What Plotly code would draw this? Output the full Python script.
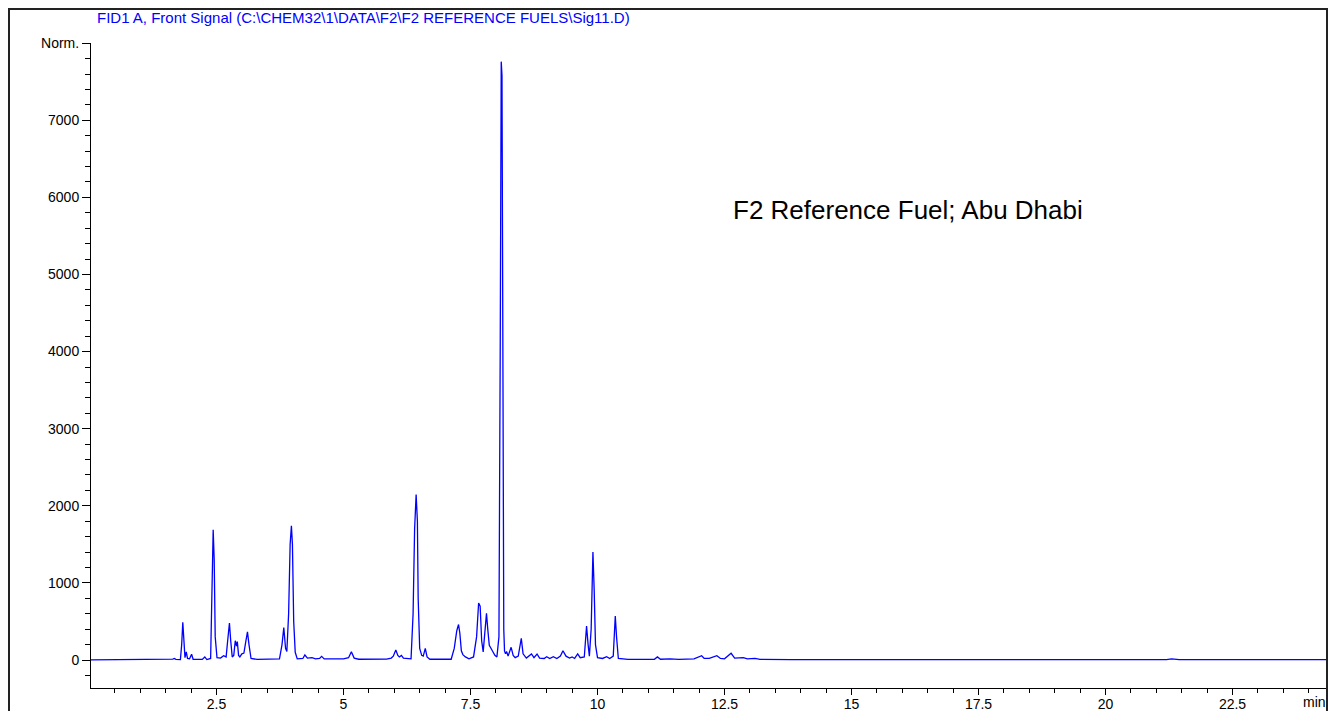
import plotly.graph_objects as go

# Retention time (min) and detector signal (Norm.)
time_min = [
    0.03, 1.60, 1.64, 1.67, 1.70, 1.79, 1.815, 1.837, 1.855, 1.88, 1.905, 1.93, 1.97, 2.01, 2.04,
    2.22, 2.27, 2.31, 2.385, 2.41, 2.435, 2.455, 2.475, 2.51, 2.58, 2.64, 2.69, 2.72, 2.755, 2.78,
    2.81, 2.84, 2.87, 2.895, 2.91, 2.935, 2.96, 3.0, 3.04, 3.08, 3.11, 3.14, 3.18, 3.3, 3.45, 3.5,
    3.74, 3.79, 3.825, 3.86, 3.885, 3.92, 3.95, 3.975, 3.995, 4.02, 4.05, 4.09, 4.2, 4.24, 4.29,
    4.38, 4.45, 4.53, 4.57, 4.62, 4.9, 5.0, 5.1, 5.155, 5.21, 5.3, 5.85, 5.94, 5.98, 6.03, 6.07,
    6.1, 6.14, 6.18, 6.33, 6.37, 6.40, 6.43, 6.455, 6.47, 6.5, 6.54, 6.57, 6.61, 6.645, 6.7,
    7.12, 7.18, 7.23, 7.265, 7.29, 7.32, 7.35, 7.4, 7.47, 7.56, 7.62, 7.66, 7.69, 7.72, 7.75,
    7.78, 7.815, 7.84, 7.87, 7.93, 7.98, 8.02, 8.06, 8.085, 8.105, 8.12, 8.135, 8.155, 8.17,
    8.19, 8.21, 8.24, 8.3, 8.34, 8.38, 8.44, 8.5, 8.535, 8.6, 8.7, 8.75, 8.81, 8.86, 8.95, 9.0,
    9.06, 9.13, 9.2, 9.27, 9.32, 9.38, 9.45, 9.5, 9.55, 9.61, 9.66, 9.74, 9.785, 9.815, 9.84,
    9.875, 9.91, 9.935, 9.96, 10.0, 10.1, 10.18, 10.24, 10.31, 10.35, 10.375, 10.41, 10.6,
    11.12, 11.18, 11.24, 11.43, 11.6, 11.9, 12.05, 12.1, 12.2, 12.35, 12.42, 12.5, 12.63, 12.7,
    12.87, 12.95, 13.1, 13.2, 13.63, 13.8, 21.2, 21.3, 21.45, 22.9, 23.0, 23.2, 23.3, 24.34,
]
signal = [
    3, 3, 12, 20, 8, 6, 200, 490, 200, 30, 105, 20, 15, 75, 10,
    8, 40, 6, 20, 800, 1690, 1300, 300, 30, 25, 55, 40, 250, 480, 250,
    40, 60, 250, 180, 240, 60, 40, 80, 90, 250, 365, 200, 20, 8, 10, 5,
    15, 200, 420, 150, 110, 600, 1500, 1740, 1500, 500, 100, 15, 20, 65, 25,
    30, 15, 20, 48, 15, 10, 15, 30, 108, 25, 10, 12, 25, 50, 130, 60,
    40, 60, 25, 15, 600, 1700, 2145, 1800, 800, 150, 60, 50, 150, 40, 10,
    10, 150, 380, 460, 350, 120, 70, 40, 15, 40, 300, 740, 700, 250, 105,
    300, 605, 400, 190, 120, 60, 40, 300, 4000, 7760, 7580, 3000, 400, 115,
    80, 110, 50, 165, 60, 30, 50, 280, 80, 25, 78, 30, 78, 25, 20, 43,
    20, 43, 20, 50, 120, 50, 25, 39, 20, 78, 30, 40, 440, 200, 50,
    400, 1400, 900, 200, 30, 20, 43, 20, 50, 570, 300, 20, 8,
    10, 40, 10, 15, 8, 15, 56, 20, 20, 56, 20, 15, 87, 25,
    30, 15, 20, 8, 10, 5, 5, 15, 5, 5, 10, 10, 5, 5,
]

y_tick_vals = [0, 1000, 2000, 3000, 4000, 5000, 6000, 7000, 8000]
y_tick_text = ["0", "1000", "2000", "3000", "4000", "5000", "6000", "7000", "Norm."]
x_tick_vals = [2.5, 5, 7.5, 10, 12.5, 15, 17.5, 20, 22.5]
x_tick_text = ["2.5", "5", "7.5", "10", "12.5", "15", "17.5", "20", "22.5"]

title_text = "FID1 A, Front Signal (C:\\CHEM32\\1\\DATA\\F2\\F2 REFERENCE FUELS\\Sig11.D)"
label_text = "F2 Reference Fuel; Abu Dhabi"

FONT = "Liberation Sans, Arial, sans-serif"

W, H = 1330, 711
L, R, T, B = 91, 1326, 43, 688  # plot-area edges in window pixels


def px(xr):
    return (xr - L) / (R - L)


def py(yr):
    return (B - yr) / (B - T)


fig = go.Figure()
fig.add_trace(go.Scatter(
    x=time_min, y=signal, mode="lines",
    line=dict(color="#0000ff", width=1.3),
    hoverinfo="x+y", showlegend=False,
))

fig.update_layout(
    width=W, height=H,
    margin=dict(l=L, r=W - R, t=T, b=H - B, autoexpand=False),
    paper_bgcolor="white", plot_bgcolor="white",
    font=dict(family=FONT, size=14, color="black"),
    xaxis=dict(
        range=[0.03, 24.34], showgrid=False, zeroline=False, automargin=False,
        showline=True, linecolor="black", linewidth=1,
        ticks="outside", ticklen=6, tickcolor="black", tickwidth=1,
        tickvals=x_tick_vals, ticktext=x_tick_text, ticklabelstandoff=-3,
        tickfont=dict(family=FONT, size=14, color="black"),
        minor=dict(dtick=0.5, tick0=0, ticks="outside", ticklen=4, tickcolor="black", tickwidth=1),
    ),
    yaxis=dict(
        range=[-363, 8002], showgrid=False, zeroline=False, automargin=False,
        showline=True, linecolor="black", linewidth=1,
        ticks="outside", ticklen=8, tickcolor="black", tickwidth=1,
        tickvals=y_tick_vals, ticktext=y_tick_text,
        tickfont=dict(family=FONT, size=14, color="black"),
        minor=dict(dtick=200, tick0=0, ticks="outside", ticklen=5, tickcolor="black", tickwidth=1),
    ),
    annotations=[
        dict(text=title_text, xref="paper", yref="paper",
             x=px(95), y=py(18), xanchor="left", yanchor="middle",
             showarrow=False, font=dict(family=FONT, size=15, color="#0000ff")),
        dict(text=label_text, xref="paper", yref="paper",
             x=px(731), y=py(210), xanchor="left", yanchor="middle",
             showarrow=False, font=dict(family=FONT, size=26, color="black")),
        dict(text="min", xref="paper", yref="paper",
             x=px(1328), y=py(702), xanchor="right", yanchor="middle",
             showarrow=False, font=dict(family=FONT, size=14, color="black")),
    ],
    shapes=[
        dict(type="rect", xref="paper", yref="paper",
             x0=px(9), x1=px(1327),
             y0=py(730), y1=py(9),
             line=dict(color="#222222", width=2), fillcolor="rgba(0,0,0,0)", layer="above"),
    ],
)

fig.write_html(
    "out.html",
    config={"displayModeBar": False},
    post_script="document.body.style.margin='0';document.body.style.overflow='hidden';",
)
